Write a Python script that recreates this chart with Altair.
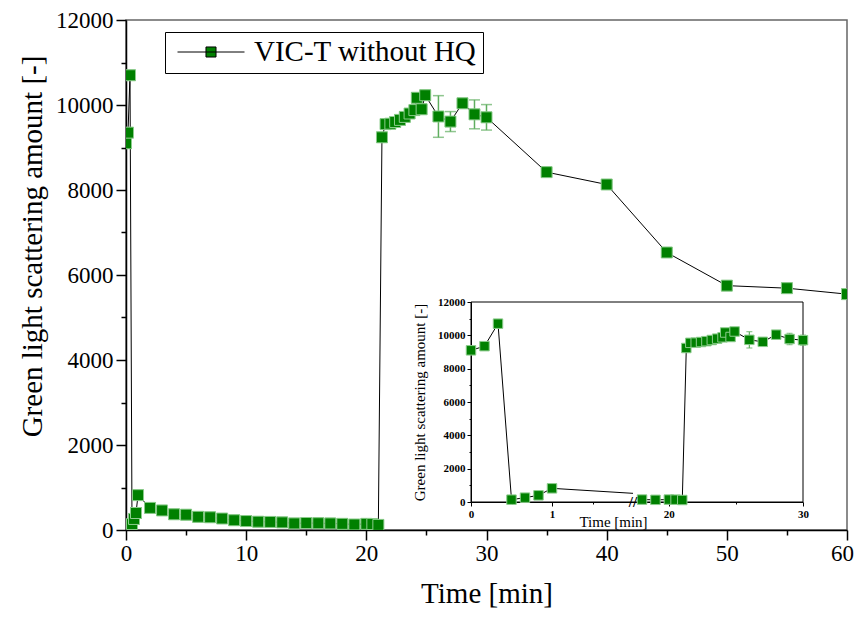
import altair as alt
import pandas as pd

SERIES = "VIC-T without HQ"

time_min = [0, 1/6, 2/6, 0.5, 4/6, 5/6, 1,
            2, 3, 4, 5, 6, 7, 8, 9, 10, 11, 12, 13, 14, 15, 16, 17, 18, 19, 20, 20.5, 21,
            21.3, 21.6, 22.0, 22.4, 22.8, 23.2, 23.6, 24.0, 24.2, 24.6, 24.9,
            26, 27, 28, 29, 30,
            35, 40, 45, 50, 55, 60]
scatter = [9100, 9350, 10700, 140, 260, 400, 820,
           520, 460, 370, 360, 310, 300, 270, 230, 210, 195, 190, 180, 155, 165, 160, 155, 145, 130, 145, 140, 120,
           9240, 9550, 9560, 9600, 9650, 9720, 9800, 9880, 10170, 9900, 10230,
           9730, 9610, 10040, 9780, 9710,
           8420, 8130, 6530, 5750, 5690, 5550]
error = [0, 0, 0, 0, 0, 0, 0,
         0, 0, 0, 0, 0, 0, 0, 0, 0, 0, 0, 0, 0, 0, 0, 0, 0, 0, 0, 0, 0,
         0, 0, 0, 0, 0, 0, 0, 0, 0, 0, 0,
         490, 235, 0, 340, 300,
         0, 0, 0, 0, 0, 0]

main_x_ticks = list(range(0, 61, 5))
main_y_ticks = list(range(0, 12001, 1000))
inset_x_ticks = [0, 0.5, 1, 1.5, 20, 25, 30]
inset_y_ticks = list(range(0, 12001, 1000))

df = pd.DataFrame({"t": time_min, "v": scatter, "e": error})
df["lo"] = df["v"] - df["e"]
df["hi"] = df["v"] + df["e"]
df["series"] = SERIES

FONT = "Liberation Serif"
GREEN = "#008000"
EDGE = "#8ccc8c"
ERRC = "#5fae5f"

# ---------------- main plot ----------------
main_xscale = alt.Scale(domain=[0, 60], nice=False, zero=False)
main_yscale = alt.Scale(domain=[0, 12000], nice=False, zero=False)

main_xaxis = alt.Axis(
    title="Time [min]", values=main_x_ticks,
    labelExpr="datum.value % 10 === 0 ? datum.label : ''",
    tickSize={"condition": {"test": "datum.value % 10 === 0", "value": 10}, "value": 5},
    labelOffset={"condition": {"test": "datum.value === 60", "value": -5}, "value": 0},
    grid=False, labelFont=FONT, labelFontSize=23, labelColor="black", labelPadding=2,
    titleFont=FONT, titleFontSize=29, titleFontWeight="normal", titleColor="black", titlePadding=14,
    domainColor="black", domainWidth=1.5, tickColor="black", tickWidth=1.5, labelFlush=False,
)
main_yaxis = alt.Axis(
    title="Green light scattering amount [-]", values=main_y_ticks,
    labelExpr="datum.value % 2000 === 0 ? datum.label : ''",
    tickSize={"condition": {"test": "datum.value % 2000 === 0", "value": 10}, "value": 5},
    format="d", grid=False, labelFont=FONT, labelFontSize=23, labelColor="black", labelPadding=3,
    titleFont=FONT, titleFontSize=29, titleFontWeight="normal", titleColor="black", titlePadding=8,
    titleY=226, titleLimit=600,
    domainColor="black", domainWidth=1.5, tickColor="black", tickWidth=1.5, labelFlush=False,
)


def mx(field="t"):
    return alt.X(f"{field}:Q", scale=main_xscale, axis=main_xaxis)


def my(field="v"):
    return alt.Y(f"{field}:Q", scale=main_yscale, axis=main_yaxis)


base = alt.Chart(df)

main_line = base.mark_line(color="black", strokeWidth=1, clip=True).encode(x=mx(), y=my())
err_df_filter = "datum.e > 0"
main_err = base.transform_filter(err_df_filter).mark_rule(color=ERRC, strokeWidth=1.5, clip=True).encode(
    x=mx(), y=my("lo"), y2=alt.Y2("hi:Q"))
main_cap_lo = base.transform_filter(err_df_filter).mark_tick(
    orient="horizontal", color=ERRC, size=11, thickness=1.5, clip=True).encode(x=mx(), y=my("lo"))
main_cap_hi = base.transform_filter(err_df_filter).mark_tick(
    orient="horizontal", color=ERRC, size=11, thickness=1.5, clip=True).encode(x=mx(), y=my("hi"))
main_pts_legend = base.mark_point(shape="square", filled=True, size=121, opacity=1, clip=True).encode(
    x=mx(), y=my(),
    color=alt.Color("series:N", scale=alt.Scale(range=[GREEN]), legend=alt.Legend(
        title=None, orient="none", legendX=39, legendY=12,
        symbolType="M-1,0H1M-0.15,-0.15H0.15V0.15H-0.15Z", symbolSize=4489,
        symbolStrokeColor="black", symbolStrokeWidth=1, symbolOffset=6,
        labelFont=FONT, labelFontSize=29, labelColor="black", labelOffset=9, labelLimit=400,
        strokeColor="black", fillColor="white", padding=6, clipHeight=28,
    )))
main_pts = base.mark_point(shape="square", filled=True, size=121, fill=GREEN, stroke=EDGE,
                           strokeWidth=1, opacity=1, clip=True).encode(x=mx(), y=my())

main_layer = alt.layer(main_line, main_err, main_cap_lo, main_cap_hi, main_pts_legend, main_pts)

# ---------------- inset ----------------
inset_xscale = alt.Scale(domain=[0, 2, 17.4, 30], range=[345, 507, 508, 677], nice=False, zero=False)
inset_yscale = alt.Scale(domain=[0, 12000], range=[482, 282], nice=False, zero=False)

inset_xaxis = alt.Axis(
    orient="bottom", offset=-28, title="Time [min]", values=inset_x_ticks,
    labelExpr="indexof([0, 1, 20, 30], datum.value) >= 0 ? datum.label : ''",
    tickSize={"condition": {"test": "indexof([0, 1, 20, 30], datum.value) >= 0", "value": 4}, "value": 2},
    grid=False, labelFont=FONT, labelFontSize=11, labelFontWeight="bold", labelColor="black", labelPadding=2,
    titleFont=FONT, titleFontSize=15, titleFontWeight="normal", titleColor="black",
    titleX=487, titleY=12, titleBaseline="top",
    domainColor="black", domainWidth=1, tickColor="black", tickWidth=1, labelFlush=False,
)
inset_yaxis = alt.Axis(
    orient="left", offset=-345, title="Green light scattering amount [-]", values=inset_y_ticks,
    labelExpr="datum.value % 2000 === 0 ? datum.label : ''",
    tickSize={"condition": {"test": "datum.value % 2000 === 0", "value": 4}, "value": 2},
    format="d", grid=False, labelFont=FONT, labelFontSize=11, labelFontWeight="bold", labelColor="black",
    labelPadding=2, titleFont=FONT, titleFontSize=15, titleFontWeight="normal", titleColor="black",
    titlePadding=10, titleLimit=400,
    domainColor="black", domainWidth=1, tickColor="black", tickWidth=1, labelFlush=False,
)


def ix(field="t"):
    return alt.X(f"{field}:Q", scale=inset_xscale, axis=inset_xaxis)


def iy(field="v"):
    return alt.Y(f"{field}:Q", scale=inset_yscale, axis=inset_yaxis)


inset_box = alt.Chart(pd.DataFrame({"t": [0], "t2": [30], "v": [0], "v2": [12000]})).mark_rect(
    fill="transparent", stroke="black", strokeWidth=1).encode(
    x=ix(), x2=alt.X2("t2:Q"), y=iy(), y2=alt.Y2("v2:Q"))

inset_line = base.transform_filter(
    "datum.t <= 2 || (datum.t >= 18 && datum.t <= 30)"
).transform_calculate(seg="datum.t <= 2 ? 'a' : 'b'").mark_line(color="black", strokeWidth=1).encode(
    x=ix(), y=iy(), detail="seg:N")
inset_filter_pts = "datum.t <= 1 || (datum.t >= 18 && datum.t <= 30)"
inset_err = base.transform_filter(err_df_filter).transform_filter("datum.t <= 30").mark_rule(
    color=ERRC, strokeWidth=1.2).encode(x=ix(), y=iy("lo"), y2=alt.Y2("hi:Q"))
inset_cap_lo = base.transform_filter(err_df_filter).transform_filter("datum.t <= 30").mark_tick(
    orient="horizontal", color=ERRC, size=6, thickness=1.2).encode(x=ix(), y=iy("lo"))
inset_cap_hi = base.transform_filter(err_df_filter).transform_filter("datum.t <= 30").mark_tick(
    orient="horizontal", color=ERRC, size=6, thickness=1.2).encode(x=ix(), y=iy("hi"))
inset_pts = base.transform_filter(inset_filter_pts).mark_point(
    shape="square", filled=True, size=90, fill=GREEN, stroke=EDGE, strokeWidth=1, opacity=1).encode(
    x=ix(), y=iy())
inset_break = alt.Chart(pd.DataFrame({"t": [2], "v": [0], "s": ["//"]})).mark_text(
    font=FONT, fontSize=15, fontWeight="bold", color="black").encode(x=ix(), y=iy(), text="s:N")

inset_layer = alt.layer(inset_box, inset_line, inset_err, inset_cap_lo, inset_cap_hi, inset_pts, inset_break)

chart = alt.layer(main_layer, inset_layer).resolve_scale(
    x="independent", y="independent"
).properties(
    width=721, height=510,
    autosize=alt.AutoSizeParams(type="none"),
    padding={"left": 118, "top": 12, "right": 7, "bottom": 80},
    background="white",
).configure_view(
    stroke="#666666", strokeWidth=1.5
).configure_axis(
    labelFont=FONT, titleFont=FONT
).configure_legend(
    labelFont=FONT
).configure_text(font=FONT)

chart.save("out.html", embed_options={"renderer": "svg", "actions": False})
